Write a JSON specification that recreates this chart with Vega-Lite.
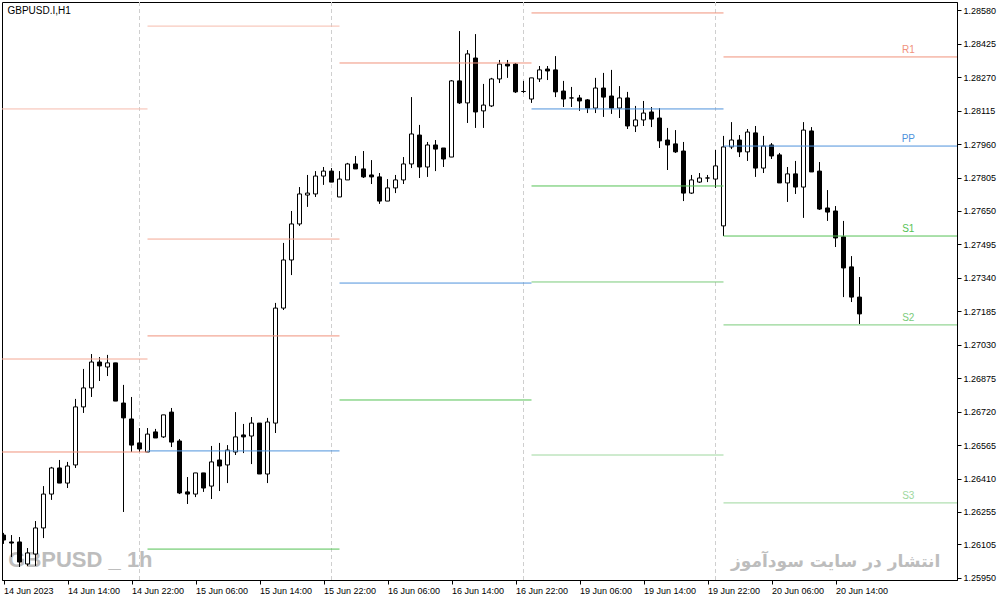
{
  "$schema": "https://vega.github.io/schema/vega-lite/v6.json",
  "width": 955,
  "height": 578,
  "autosize": {"type": "none"},
  "padding": {"left": 2, "top": 2, "right": 46, "bottom": 22},
  "background": "#ffffff",
  "config": {
    "view": {"stroke": "#000000", "strokeWidth": 1},
    "font": "Liberation Sans"
  },
  "datasets": {
    "bars": [
      {"i":0,"o":1.26148,"h":1.26158,"l":1.26107,"c":1.26125},
      {"i":1,"o":1.26116,"h":1.26148,"l":1.26046,"c":1.26111},
      {"i":2,"o":1.26116,"h":1.26139,"l":1.26000,"c":1.26023},
      {"i":3,"o":1.26014,"h":1.26088,"l":1.26005,"c":1.26065},
      {"i":4,"o":1.26060,"h":1.26213,"l":1.26005,"c":1.26181},
      {"i":5,"o":1.26181,"h":1.26375,"l":1.26134,"c":1.26338},
      {"i":6,"o":1.26338,"h":1.26464,"l":1.26311,"c":1.26459},
      {"i":7,"o":1.26459,"h":1.26496,"l":1.26389,"c":1.26389},
      {"i":8,"o":1.26389,"h":1.26487,"l":1.26366,"c":1.26468},
      {"i":9,"o":1.26473,"h":1.26779,"l":1.26459,"c":1.26742},
      {"i":10,"o":1.26742,"h":1.26918,"l":1.26714,"c":1.26830},
      {"i":11,"o":1.26830,"h":1.26987,"l":1.26788,"c":1.26950},
      {"i":12,"o":1.26950,"h":1.26973,"l":1.26862,"c":1.26932},
      {"i":13,"o":1.26927,"h":1.26983,"l":1.26885,"c":1.26946},
      {"i":14,"o":1.26946,"h":1.26946,"l":1.26769,"c":1.26769},
      {"i":15,"o":1.26760,"h":1.26844,"l":1.26255,"c":1.26691},
      {"i":16,"o":1.26686,"h":1.26788,"l":1.26533,"c":1.26565},
      {"i":17,"o":1.26575,"h":1.26644,"l":1.26533,"c":1.26547},
      {"i":18,"o":1.26533,"h":1.26644,"l":1.26533,"c":1.26616},
      {"i":19,"o":1.26626,"h":1.26640,"l":1.26598,"c":1.26598},
      {"i":20,"o":1.26603,"h":1.26705,"l":1.26598,"c":1.26705},
      {"i":21,"o":1.26718,"h":1.26737,"l":1.26556,"c":1.26579},
      {"i":22,"o":1.26584,"h":1.26593,"l":1.26338,"c":1.26343},
      {"i":23,"o":1.26348,"h":1.26417,"l":1.26292,"c":1.26338},
      {"i":24,"o":1.26338,"h":1.26436,"l":1.26324,"c":1.26436},
      {"i":25,"o":1.26436,"h":1.26436,"l":1.26348,"c":1.26366},
      {"i":26,"o":1.26375,"h":1.26561,"l":1.26315,"c":1.26487},
      {"i":27,"o":1.26496,"h":1.26575,"l":1.26352,"c":1.26468},
      {"i":28,"o":1.26473,"h":1.26565,"l":1.26389,"c":1.26542},
      {"i":29,"o":1.26533,"h":1.26718,"l":1.26519,"c":1.26603},
      {"i":30,"o":1.26612,"h":1.26663,"l":1.26528,"c":1.26603},
      {"i":31,"o":1.26607,"h":1.26695,"l":1.26477,"c":1.26667},
      {"i":32,"o":1.26667,"h":1.26667,"l":1.26431,"c":1.26431},
      {"i":33,"o":1.26431,"h":1.26691,"l":1.26389,"c":1.26672},
      {"i":34,"o":1.26667,"h":1.27224,"l":1.26621,"c":1.27200},
      {"i":35,"o":1.27200,"h":1.27502,"l":1.27191,"c":1.27423},
      {"i":36,"o":1.27423,"h":1.27650,"l":1.27353,"c":1.27590},
      {"i":37,"o":1.27590,"h":1.27761,"l":1.27581,"c":1.27729},
      {"i":38,"o":1.27724,"h":1.27817,"l":1.27669,"c":1.27733},
      {"i":39,"o":1.27729,"h":1.27835,"l":1.27715,"c":1.27812},
      {"i":40,"o":1.27812,"h":1.27854,"l":1.27771,"c":1.27835},
      {"i":41,"o":1.27835,"h":1.27849,"l":1.27784,"c":1.27784},
      {"i":42,"o":1.27715,"h":1.27835,"l":1.27715,"c":1.27798},
      {"i":43,"o":1.27794,"h":1.27873,"l":1.27794,"c":1.27868},
      {"i":44,"o":1.27868,"h":1.27905,"l":1.27845,"c":1.27845},
      {"i":45,"o":1.27845,"h":1.27928,"l":1.27803,"c":1.27808},
      {"i":46,"o":1.27817,"h":1.27886,"l":1.27775,"c":1.27808},
      {"i":47,"o":1.27808,"h":1.27826,"l":1.27683,"c":1.27696},
      {"i":48,"o":1.27696,"h":1.27798,"l":1.27696,"c":1.27757},
      {"i":49,"o":1.27757,"h":1.27817,"l":1.27733,"c":1.27794},
      {"i":50,"o":1.27794,"h":1.27900,"l":1.27775,"c":1.27868},
      {"i":51,"o":1.27868,"h":1.28178,"l":1.27849,"c":1.28007},
      {"i":52,"o":1.28002,"h":1.28049,"l":1.27803,"c":1.27854},
      {"i":53,"o":1.27854,"h":1.27970,"l":1.27808,"c":1.27956},
      {"i":54,"o":1.27956,"h":1.27979,"l":1.27835,"c":1.27937},
      {"i":55,"o":1.27942,"h":1.27942,"l":1.27854,"c":1.27891},
      {"i":56,"o":1.27900,"h":1.28257,"l":1.27900,"c":1.28253},
      {"i":57,"o":1.28253,"h":1.28484,"l":1.28146,"c":1.28151},
      {"i":58,"o":1.28151,"h":1.28396,"l":1.28058,"c":1.28378},
      {"i":59,"o":1.28359,"h":1.28470,"l":1.28035,"c":1.28109},
      {"i":60,"o":1.28114,"h":1.28239,"l":1.28035,"c":1.28141},
      {"i":61,"o":1.28137,"h":1.28267,"l":1.28132,"c":1.28262},
      {"i":62,"o":1.28262,"h":1.28350,"l":1.28243,"c":1.28331},
      {"i":63,"o":1.28331,"h":1.28350,"l":1.28267,"c":1.28322},
      {"i":64,"o":1.28331,"h":1.28336,"l":1.28197,"c":1.28202},
      {"i":65,"o":1.28204,"h":1.28253,"l":1.28197,"c":1.28204},
      {"i":66,"o":1.28169,"h":1.28267,"l":1.28151,"c":1.28267},
      {"i":67,"o":1.28262,"h":1.28322,"l":1.28248,"c":1.28304},
      {"i":68,"o":1.28308,"h":1.28322,"l":1.28257,"c":1.28299},
      {"i":69,"o":1.28304,"h":1.28368,"l":1.28178,"c":1.28202},
      {"i":70,"o":1.28206,"h":1.28253,"l":1.28132,"c":1.28169},
      {"i":71,"o":1.28174,"h":1.28225,"l":1.28132,"c":1.28174},
      {"i":72,"o":1.28174,"h":1.28188,"l":1.28114,"c":1.28160},
      {"i":73,"o":1.28165,"h":1.28169,"l":1.28104,"c":1.28127},
      {"i":74,"o":1.28127,"h":1.28267,"l":1.28104,"c":1.28220},
      {"i":75,"o":1.28220,"h":1.28290,"l":1.28086,"c":1.28178},
      {"i":76,"o":1.28183,"h":1.28304,"l":1.28100,"c":1.28127},
      {"i":77,"o":1.28127,"h":1.28229,"l":1.28081,"c":1.28174},
      {"i":78,"o":1.28174,"h":1.28202,"l":1.28030,"c":1.28044},
      {"i":79,"o":1.28044,"h":1.28137,"l":1.28016,"c":1.28072},
      {"i":80,"o":1.28072,"h":1.28160,"l":1.28044,"c":1.28104},
      {"i":81,"o":1.28109,"h":1.28132,"l":1.28039,"c":1.28076},
      {"i":82,"o":1.28081,"h":1.28127,"l":1.27942,"c":1.27975},
      {"i":83,"o":1.27979,"h":1.28035,"l":1.27840,"c":1.27956},
      {"i":84,"o":1.27961,"h":1.28025,"l":1.27919,"c":1.27924},
      {"i":85,"o":1.27928,"h":1.27970,"l":1.27696,"c":1.27733},
      {"i":86,"o":1.27733,"h":1.27817,"l":1.27729,"c":1.27794},
      {"i":87,"o":1.27784,"h":1.27826,"l":1.27780,"c":1.27803},
      {"i":88,"o":1.27803,"h":1.27817,"l":1.27784,"c":1.27803},
      {"i":89,"o":1.27798,"h":1.27933,"l":1.27757,"c":1.27859},
      {"i":90,"o":1.27581,"h":1.27998,"l":1.27534,"c":1.27947},
      {"i":91,"o":1.27947,"h":1.28062,"l":1.27937,"c":1.27979},
      {"i":92,"o":1.27979,"h":1.28002,"l":1.27900,"c":1.27924},
      {"i":93,"o":1.27924,"h":1.28030,"l":1.27882,"c":1.28016},
      {"i":94,"o":1.28012,"h":1.28044,"l":1.27808,"c":1.27849},
      {"i":95,"o":1.27849,"h":1.27998,"l":1.27826,"c":1.27951},
      {"i":96,"o":1.27956,"h":1.27965,"l":1.27891,"c":1.27905},
      {"i":97,"o":1.27910,"h":1.27919,"l":1.27780,"c":1.27780},
      {"i":98,"o":1.27780,"h":1.27854,"l":1.27692,"c":1.27822},
      {"i":99,"o":1.27822,"h":1.27882,"l":1.27729,"c":1.27761},
      {"i":100,"o":1.27761,"h":1.28062,"l":1.27618,"c":1.28025},
      {"i":101,"o":1.28021,"h":1.28039,"l":1.27831,"c":1.27831},
      {"i":102,"o":1.27835,"h":1.27877,"l":1.27655,"c":1.27659},
      {"i":103,"o":1.27664,"h":1.27747,"l":1.27604,"c":1.27645},
      {"i":104,"o":1.27650,"h":1.27673,"l":1.27483,"c":1.27525},
      {"i":105,"o":1.27530,"h":1.27604,"l":1.27251,"c":1.27386},
      {"i":106,"o":1.27391,"h":1.27441,"l":1.27228,"c":1.27251},
      {"i":107,"o":1.27251,"h":1.27344,"l":1.27126,"c":1.27173}
    ],
    "pivots": [
      {"d0":-1,"d1":18,"k":"R3","v":1.28123},
      {"d0":-1,"d1":18,"k":"R2","v":1.26964},
      {"d0":-1,"d1":18,"k":"R1","v":1.26533},
      {"d0":18,"d1":42,"k":"R3","v":1.28507},
      {"d0":18,"d1":42,"k":"R2","v":1.27520},
      {"d0":18,"d1":42,"k":"R1","v":1.27071},
      {"d0":18,"d1":42,"k":"PP","v":1.26538},
      {"d0":18,"d1":42,"k":"S1","v":1.26083},
      {"d0":42,"d1":66,"k":"R1","v":1.28336},
      {"d0":42,"d1":66,"k":"PP","v":1.27316},
      {"d0":42,"d1":66,"k":"S1","v":1.26774},
      {"d0":66,"d1":90,"k":"R1","v":1.28568},
      {"d0":66,"d1":90,"k":"PP","v":1.28123},
      {"d0":66,"d1":90,"k":"S1","v":1.27766},
      {"d0":66,"d1":90,"k":"S2","v":1.27321},
      {"d0":66,"d1":90,"k":"S3","v":1.26519},
      {"d0":90,"d1":121,"k":"R1","v":1.28364},
      {"d0":90,"d1":121,"k":"PP","v":1.27951},
      {"d0":90,"d1":121,"k":"S1","v":1.27534},
      {"d0":90,"d1":121,"k":"S2","v":1.27122},
      {"d0":90,"d1":121,"k":"S3","v":1.26297}
    ],
    "separators": [{"i":17},{"i":41},{"i":65},{"i":89}]
  },
  "layer": [
    {
      "data": {"values": [{"t": "GBPUSD _ 1h"}]},
      "mark": {"type": "text", "align": "left", "baseline": "middle", "font": "Liberation Sans", "fontWeight": "bold", "fontSize": 22, "color": "#bdbdbd"},
      "encoding": {
        "x": {
          "datum": 0.6, "type": "quantitative",
          "scale": {"domain": [-0.1875, 119.1875], "nice": false, "zero": false, "padding": 0},
          "axis": {
            "orient": "bottom", "title": null, "grid": false,
            "values": [0, 8, 16, 24, 32, 40, 48, 56, 64, 72, 80, 88, 96, 104],
            "tickCount": 40,
            "labelExpr": "['14 Jun 2023','14 Jun 14:00','14 Jun 22:00','15 Jun 06:00','15 Jun 14:00','15 Jun 22:00','16 Jun 06:00','16 Jun 14:00','16 Jun 22:00','19 Jun 06:00','19 Jun 14:00','19 Jun 22:00','20 Jun 06:00','20 Jun 14:00'][round(datum.value / 8)]",
            "labelAlign": "left", "labelOffset": 0, "labelFlush": false, "labelOverlap": false, "labelBound": false,
            "labelFont": "Liberation Sans", "labelFontSize": 9, "labelColor": "#000000",
            "tickSize": 4, "tickColor": "#000000", "labelPadding": 2,
            "domainColor": "#000000"
          }
        },
        "y": {
          "datum": 1.26032, "type": "quantitative",
          "scale": {"domain": [1.259397, 1.286187], "nice": false, "zero": false, "padding": 0},
          "axis": {
            "orient": "right", "title": null, "grid": false,
            "values": [1.2595, 1.26105, 1.26255, 1.2641, 1.26565, 1.2672, 1.26875, 1.2703, 1.27185, 1.2734, 1.27495, 1.2765, 1.27805, 1.2796, 1.28115, 1.2827, 1.28425, 1.2858],
            "tickCount": 40,
            "format": ".5f", "labelOverlap": false, "labelBound": false, "labelFlush": false,
            "labelFont": "Liberation Sans", "labelFontSize": 9, "labelColor": "#000000",
            "tickSize": 4, "tickColor": "#000000", "labelPadding": 2,
            "domainColor": "#000000"
          }
        },
        "text": {"field": "t"}
      }
    },
    {
      "data": {"values": [{"t": "انتشار در سایت سودآموز"}]},
      "mark": {"type": "text", "align": "right", "baseline": "middle", "font": "DejaVu Sans", "fontWeight": "bold", "fontSize": 17, "color": "#bdbdbd"},
      "encoding": {
        "x": {"datum": 117.1, "type": "quantitative"},
        "y": {"datum": 1.26023, "type": "quantitative"},
        "text": {"field": "t"}
      }
    },
    {
      "data": {"name": "separators"},
      "mark": {"type": "rule", "color": "#cfcfcf", "strokeWidth": 1, "strokeDash": [4, 3]},
      "encoding": {
        "x": {"field": "i", "type": "quantitative"}
      }
    },
    {
      "data": {"name": "bars"},
      "mark": {"type": "rule", "color": "#000000", "strokeWidth": 1, "clip": true},
      "encoding": {
        "x": {"field": "i", "type": "quantitative"},
        "y": {"field": "l", "type": "quantitative"},
        "y2": {"field": "h"}
      }
    },
    {
      "data": {"name": "bars"},
      "mark": {"type": "bar", "size": 4, "stroke": "#000000", "strokeWidth": 1, "clip": true},
      "encoding": {
        "x": {"field": "i", "type": "quantitative"},
        "y": {"field": "o", "type": "quantitative"},
        "y2": {"field": "c"},
        "fill": {"condition": {"test": "datum.o > datum.c", "value": "#000000"}, "value": "#ffffff"}
      }
    },
    {
      "data": {"name": "pivots"},
      "mark": {"type": "rule", "strokeWidth": 1, "clip": true},
      "encoding": {
        "x": {"field": "d0", "type": "quantitative"},
        "x2": {"field": "d1"},
        "y": {"field": "v", "type": "quantitative"},
        "color": {
          "field": "k", "type": "nominal", "legend": null,
          "scale": {"domain": ["R3", "R2", "R1", "PP", "S1", "S2", "S3"], "range": ["#f6bcae", "#f4a894", "#f0927c", "#4f93dc", "#55c255", "#7acb7a", "#9ed79e"]}
        }
      }
    },
    {
      "data": {"name": "pivots"},
      "transform": [{"filter": "datum.d0 == 90"}],
      "mark": {"type": "text", "align": "center", "baseline": "bottom", "dy": -2, "font": "Liberation Sans", "fontSize": 10},
      "encoding": {
        "x": {"datum": 113.1, "type": "quantitative"},
        "y": {"field": "v", "type": "quantitative"},
        "text": {"field": "k"},
        "color": {"field": "k", "type": "nominal", "legend": null}
      }
    },
    {
      "data": {"values": [{"t": "GBPUSD.I,H1"}]},
      "mark": {"type": "text", "align": "left", "baseline": "middle", "font": "Liberation Sans", "fontSize": 10, "color": "#000000"},
      "encoding": {
        "x": {"datum": 0.5, "type": "quantitative"},
        "y": {"datum": 1.28577, "type": "quantitative"},
        "text": {"field": "t"}
      }
    }
  ]
}
